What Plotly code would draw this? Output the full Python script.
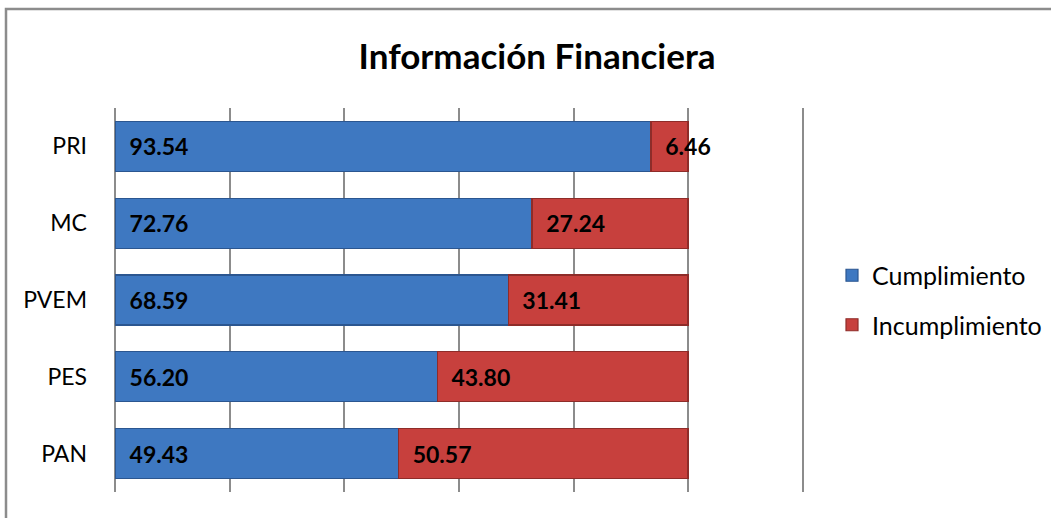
import plotly.graph_objects as go

categories = ["PRI", "MC", "PVEM", "PES", "PAN"]
cumplimiento = [93.54, 72.76, 68.59, 56.20, 49.43]
incumplimiento = [6.46, 27.24, 31.41, 43.80, 50.57]
series_names = ["Cumplimiento", "Incumplimiento"]
title_text = "Información Financiera"

FONT = "Lato"
pad = "\u00a0\u00a0"

L, R, T, B = 114, 247, 108, 26
W, H = 1051, 518
pw, ph = W - L - R, H - T - B

fig = go.Figure()
fig.add_trace(go.Bar(
    y=categories, x=cumplimiento, name=series_names[0], orientation="h",
    legendgroup="a",
    marker=dict(color="#3E78C1", line=dict(color="#2B5690", width=1.2)),
    texttemplate=pad + "%{x:.2f}", textposition="inside", insidetextanchor="start",
    constraintext="none", textangle=0,
    textfont=dict(family=FONT, size=23, color="black", weight="bold"),
))
fig.add_trace(go.Bar(
    y=categories, x=incumplimiento, name=series_names[1], orientation="h",
    legendgroup="b",
    marker=dict(color="#C7403D", line=dict(color="#8E2C29", width=1.2)),
    texttemplate=pad + "%{x:.2f}", textposition="inside", insidetextanchor="start",
    constraintext="none", cliponaxis=False, textangle=0,
    textfont=dict(family=FONT, size=23, color="black", weight="bold"),
))

fig.update_layout(
    width=W, height=H,
    barmode="stack", bargap=0.35,
    paper_bgcolor="white", plot_bgcolor="white",
    margin=dict(l=L, r=R, t=T, b=B, autoexpand=False),
    title=dict(text=title_text, x=0.511, xanchor="center", y=1 - 57 / H, yanchor="middle",
               font=dict(family=FONT, size=35, color="black", weight="bold")),
    font=dict(family=FONT, color="black"),
    xaxis=dict(range=[-0.25, 120.25], tickvals=[0, 20, 40, 60, 80, 100, 120],
               showticklabels=False, showgrid=True, automargin=False,
               gridcolor="#8c8c8c", gridwidth=1.5, zeroline=False, showline=False,
               fixedrange=True),
    yaxis=dict(autorange="reversed", showgrid=False, zeroline=False, showline=False,
               automargin=False,
               ticks="", tickfont=dict(family=FONT, size=23, color="black"),
               ticklabelstandoff=26),
    legend=dict(x=(832 - L) / pw, y=0.5, xanchor="left", yanchor="middle",
                font=dict(family=FONT, size=25, color="black"),
                itemwidth=30, tracegroupgap=14, traceorder="grouped"),
    uniformtext=dict(mode=False),
    shapes=[dict(type="rect", xref="paper", yref="paper",
                 x0=(6 - L) / pw, x1=(W + 20 - L) / pw,
                 y0=-(B + 20) / ph, y1=(H - B - 9) / ph,
                 line=dict(color="#8c8c8c", width=2.5),
                 fillcolor="rgba(0,0,0,0)", layer="below")],
)

fig.write_html("out.html", config={"displayModeBar": False},
               post_script="document.body.style.margin='0';document.body.style.overflow='hidden';")
